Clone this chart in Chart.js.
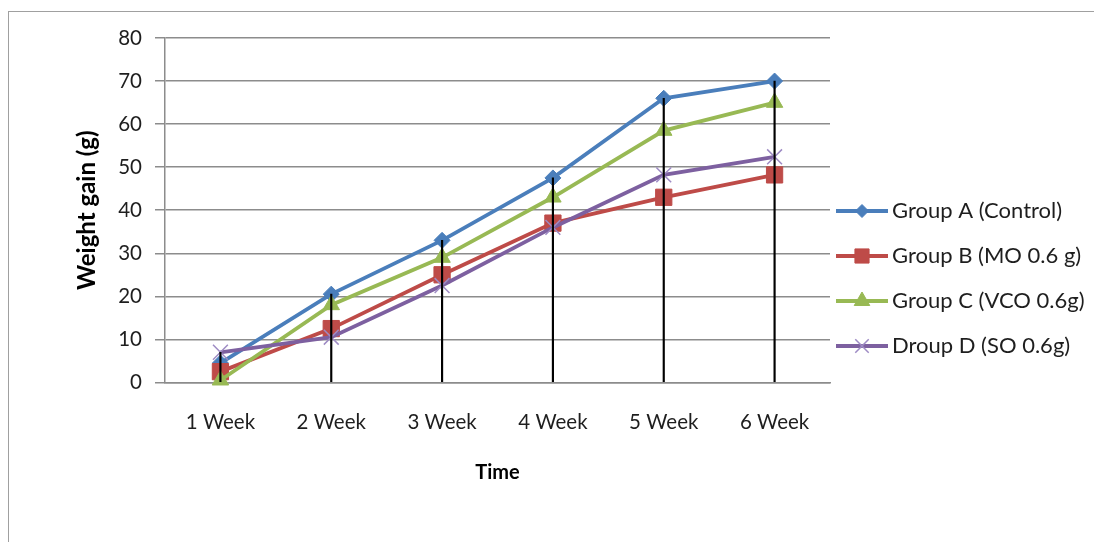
<!DOCTYPE html>
<html>
<head>
<meta charset="utf-8">
<title>Weight gain</title>
<script src="https://cdn.jsdelivr.net/npm/chart.js@4.4.1/dist/chart.umd.min.js"></script>
<style>
html, body { margin: 0; padding: 0; background: #fff; overflow: hidden; }
#frame { position: absolute; left: 8px; top: 11px; width: 1100px; height: 540px;
         border-left: 1px solid #a0a0a0; border-top: 1px solid #a0a0a0; }
#wrap { position: absolute; left: 0; top: 0; width: 1094px; height: 542px; }
</style>
</head>
<body>
<div id="frame"></div>
<div id="wrap"><canvas id="chart"></canvas></div>
<script>
// data
var weeks = ['1 Week', '2 Week', '3 Week', '4 Week', '5 Week', '6 Week'];
var groupA = [4.5, 20.5, 33, 47.5, 66, 70];
var groupB = [2.5, 12.5, 25, 37, 43, 48.2];
var groupC = [0.5, 18, 29, 43, 58.5, 65];
var groupD = [7, 10.5, 22.5, 36, 48.2, 52.4];
var seriesNames = ['Group A (Control)', 'Group B (MO 0.6 g)', 'Group C (VCO 0.6g)', 'Droup D (SO 0.6g)'];
var yTicks = [0, 10, 20, 30, 40, 50, 60, 70, 80];

var TEXT = '#1e1e1e';
var GRID = '#8c8c8c';
var FONT = 'Lato';
var LEGEND_FONT = 22;
var LEGEND_PAD = 45 - LEGEND_FONT;
var PAD_LEFT = 70;
var PLOT_LEFT = 165, PLOT_RIGHT = 830;
var LEGEND_W = 1094 - PLOT_RIGHT;

// drop lines go from the axis up to the highest series at each week
var dropTops = weeks.map(function(w, i) {
    return [0, Math.max(groupA[i], groupB[i], groupC[i], groupD[i])];
});

var styles = [
    { color: '#4A7EBB', mark: '#4A7EBB', point: 'rectRot', r: 8, lr: 6.5, bw: 1 },
    { color: '#BE4B48', mark: '#BE4B48', point: 'rect', r: 11.5, lr: 10, bw: 1 },
    { color: '#98B954', mark: '#98B954', point: 'triangle', r: 9.5, lr: 9, bw: 1 },
    { color: '#7D60A0', mark: '#9E8BC4', point: 'crossRot', r: 10.5, lr: 9.5, bw: 1.5 }
];
var seriesData = [groupA, groupB, groupC, groupD];

// legend icon: line with the marker in the middle, drawn a little left of the box
var boxX = PLOT_RIGHT + LEGEND_PAD;
var iconBox = 892 - LEGEND_FONT / 2 - boxX;
var iconW = Math.round(2 * (boxX + iconBox / 2 - 836));
function legendIcon(s) {
    var c = document.createElement('canvas');
    c.width = iconW; c.height = 26;
    var g = c.getContext('2d');
    g.strokeStyle = s.color; g.lineWidth = 3.8;
    g.beginPath(); g.moveTo(0, 13); g.lineTo(52, 13); g.stroke();
    g.fillStyle = s.mark; g.strokeStyle = s.mark; g.lineWidth = s.bw;
    Chart.helpers.drawPoint(g, { pointStyle: s.point, radius: s.lr, borderWidth: s.bw, rotation: 0 }, 26, 13);
    return c;
}
var icons = styles.map(legendIcon);

var datasets = seriesData.map(function(vals, i) {
    var s = styles[i];
    return {
        type: 'line',
        label: seriesNames[i],
        data: vals,
        borderColor: s.color,
        backgroundColor: s.mark,
        borderWidth: 3.8,
        tension: 0,
        pointStyle: s.point,
        pointRadius: s.r,
        pointHoverRadius: s.r,
        pointBackgroundColor: s.mark,
        pointBorderColor: s.mark,
        pointBorderWidth: s.bw,
        clip: false,
        order: 10 - i
    };
});
datasets.push({
    type: 'bar',
    label: 'drop',
    data: dropTops,
    backgroundColor: '#000',
    barThickness: 1.5,
    order: 0
});

var legendWidthPlugin = {
    id: 'legendWidth',
    beforeLayout: function(chart) {
        var lg = chart.legend;
        if (lg && !lg._fixedFit) {
            var fit = lg.fit;
            lg.fit = function() { fit.call(this); this.width = LEGEND_W; };
            lg._fixedFit = true;
        }
    }
};

Chart.defaults.font.family = FONT;
Chart.defaults.color = TEXT;

new Chart(document.getElementById('chart'), {
    type: 'line',
    data: { labels: weeks, datasets: datasets },
    plugins: [legendWidthPlugin],
    options: {
        responsive: true,
        maintainAspectRatio: false,
        animation: false,
        layout: { padding: { left: PAD_LEFT, top: 38, right: 0, bottom: 23 } },
        plugins: {
            tooltip: { enabled: false },
            legend: {
                position: 'right',
                align: 'center',
                labels: {
                    usePointStyle: true,
                    pointStyleWidth: iconBox,
                    padding: LEGEND_PAD,
                    color: TEXT,
                    font: { size: LEGEND_FONT },
                    generateLabels: function(chart) {
                        var items = Chart.defaults.plugins.legend.labels.generateLabels(chart);
                        items = items.filter(function(it) { return it.datasetIndex < 4; });
                        items.sort(function(a, b) { return a.datasetIndex - b.datasetIndex; });
                        items.forEach(function(it) { it.pointStyle = icons[it.datasetIndex]; it.fontColor = TEXT; });
                        return items;
                    }
                }
            }
        },
        scales: {
            x: {
                offset: true,
                grid: { display: false, drawTicks: false },
                border: { display: true, color: GRID, width: 1.5 },
                ticks: { padding: 28, maxRotation: 0, color: TEXT, font: { size: 20.5 } },
                title: { display: true, text: 'Time', color: '#000', font: { size: 20, weight: 'bold' },
                         padding: { top: -2, bottom: 34 } }
            },
            y: {
                min: yTicks[0],
                max: yTicks[yTicks.length - 1],
                afterFit: function(scale) { scale.width = PLOT_LEFT - PAD_LEFT; },
                afterBuildTicks: function(scale) { scale.ticks = yTicks.map(function(v) { return { value: v }; }); },
                grid: { color: GRID, lineWidth: 1.5, tickLength: 10, tickColor: GRID },
                border: { display: true, color: GRID, width: 1.5 },
                ticks: { padding: 13, color: TEXT, font: { size: 20.5 } },
                title: { display: true, text: 'Weight gain (g)', color: '#000', font: { size: 24, weight: 'bold' },
                         padding: { top: 3, bottom: 0 } }
            }
        }
    }
});
</script>
</body>
</html>
